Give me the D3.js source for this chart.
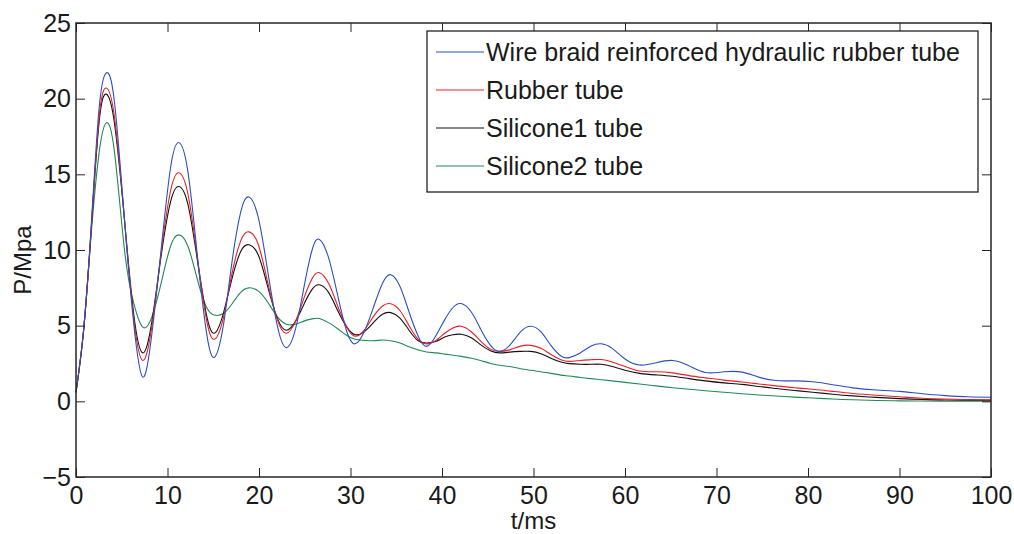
<!DOCTYPE html>
<html>
<head>
<meta charset="utf-8">
<script src="https://cdn.jsdelivr.net/npm/d3@7/dist/d3.min.js"></script>
<style>
  body { margin: 0; background: #fff; }
  svg { display: block; font-family: Arial, "Liberation Sans", sans-serif; }
</style>
</head>
<body>
<svg width="1014" height="534"></svg>
<script>
// time samples in ms (read at peaks, troughs and in between)
const timeMs = [0, 0.8, 1.6, 2.5, 3.3, 4.2, 5.3, 6.3, 7.3, 8.3, 9.3, 10.3, 11.2, 12.2, 13.2, 14.2, 15.1, 16.1, 17.0, 18.0,
  18.9, 19.9, 20.9, 22.0, 23.0, 24.0, 24.9, 25.8, 26.6, 27.6, 28.6, 29.6, 30.5, 31.5, 32.5, 33.5, 34.4, 35.4, 36.4, 37.4,
  38.3, 39.3, 40.3, 41.2, 42.1, 43.2, 44.2, 45.3, 46.3, 47.4, 48.6, 49.7, 50.8, 51.9, 53.0, 53.9, 55.1, 56.3, 57.4, 58.6,
  60, 61.6, 63.4, 65.2, 67, 68.8, 70.8, 72.8, 74.6, 76.5, 78.5, 80.5, 82.7, 84.9, 87.5, 90, 92.5, 95, 97.5, 100];

const wireBraid = [0.6, 4.5, 11, 19.2, 21.7, 19.8, 12, 5.2, 1.6, 4.5, 10, 15.3, 17.1, 15.3, 10, 4.8, 2.9, 5, 9, 12.5,
  13.5, 12.2, 8.8, 5, 3.55, 4.8, 7.5, 10, 10.7, 9.5, 7, 4.6, 3.8, 4.6, 6.2, 7.8, 8.37, 7.6, 5.9, 4.3,
  3.63, 4.3, 5.4, 6.2, 6.46, 5.9, 4.8, 3.7, 3.3, 3.7, 4.6, 4.96, 4.6, 3.7, 3.0, 2.89, 3.2, 3.65, 3.8, 3.5,
  2.8, 2.4, 2.55, 2.7, 2.35, 1.9, 1.95, 1.93, 1.6, 1.38, 1.35, 1.29, 1.1, 0.89, 0.75, 0.66, 0.5, 0.38, 0.3, 0.27];

const rubber = [0.6, 4.5, 10.8, 18.6, 20.7, 18.8, 12, 5.5, 2.7, 5, 9.8, 13.8, 15.1, 13.8, 9.8, 5.6, 4.1, 5.5, 8.3, 10.6,
  11.2, 10.4, 8, 5.4, 4.5, 5.3, 6.8, 8.1, 8.5, 7.8, 6.3, 4.9, 4.3, 4.7, 5.6, 6.3, 6.45, 6.0, 5.0, 4.1,
  3.8, 4.0, 4.5, 4.85, 4.96, 4.6, 4.0, 3.45, 3.3, 3.4, 3.65, 3.7, 3.5, 3.1, 2.75, 2.64, 2.7, 2.75, 2.76, 2.6,
  2.3, 2.0, 1.95, 1.88, 1.7, 1.55, 1.4, 1.28, 1.15, 1.02, 0.9, 0.8, 0.66, 0.52, 0.4, 0.3, 0.2, 0.15, 0.12, 0.1];

const silicone1 = [0.6, 4.5, 10.8, 18.3, 20.3, 18.4, 12, 5.8, 3.2, 5.3, 9.6, 13.1, 14.2, 13.1, 9.6, 5.9, 4.5, 5.8, 8.0, 9.9,
  10.35, 9.7, 7.7, 5.5, 4.7, 5.3, 6.4, 7.4, 7.7, 7.2, 6.0, 4.9, 4.4, 4.6, 5.2, 5.75, 5.86, 5.5, 4.7, 4.0,
  3.85, 3.95, 4.25, 4.4, 4.43, 4.2, 3.75, 3.35, 3.2, 3.25, 3.3, 3.3, 3.15, 2.85, 2.6, 2.49, 2.45, 2.45, 2.45, 2.3,
  2.05, 1.85, 1.75, 1.66, 1.5, 1.35, 1.22, 1.12, 0.98, 0.85, 0.72, 0.6, 0.47, 0.36, 0.26, 0.18, 0.12, 0.09, 0.07, 0.07];

const silicone2 = [0.6, 4.5, 10.6, 16.3, 18.4, 16.5, 10, 6.5, 4.9, 5.6, 7.8, 10.2, 11.0, 10.3, 8.2, 6.3, 5.7, 5.8, 6.4, 7.2,
  7.5, 7.3, 6.6, 5.6, 5.1, 5.1, 5.3, 5.45, 5.47, 5.2, 4.8, 4.35, 4.1, 4.03, 4.0, 4.05, 4.0, 3.85, 3.6, 3.4,
  3.26, 3.2, 3.12, 3.05, 2.97, 2.85, 2.7, 2.5, 2.38, 2.3, 2.15, 2.05, 1.95, 1.85, 1.73, 1.67, 1.58, 1.5, 1.43, 1.35,
  1.25, 1.15, 1.02, 0.9, 0.8, 0.7, 0.6, 0.5, 0.42, 0.35, 0.28, 0.22, 0.15, 0.1, 0.06, 0.03, 0.02, 0.01, 0.01, 0.01];

const seriesNames = ["Wire braid reinforced hydraulic rubber tube", "Rubber tube", "Silicone1 tube", "Silicone2 tube"];
const seriesColors = ["#2c4fc0", "#ee1c24", "#111111", "#1f8a55"];
const xTicks = [0, 10, 20, 30, 40, 50, 60, 70, 80, 90, 100];
const yTicks = [-5, 0, 5, 10, 15, 20, 25];

function drawChart(){
    const svg = d3.select("svg");
    const left = 76, right = 991, top = 23, bottom = 477;
    const tickLen = 9;
    const fontSize = 25;

    const x = d3.scaleLinear().domain([0, 100]).range([left, right]);
    const y = d3.scaleLinear().domain([-5, 25]).range([bottom, top]);

    const allSeries = [wireBraid, rubber, silicone1, silicone2];

    const line = d3.line()
        .x((d, i) => x(timeMs[i]))
        .y(d => y(d))
        .curve(d3.curveNatural);

    const plot = svg.append("g");
    // green first so the others lie on top like the original
    [3, 2, 1, 0].forEach(k => {
        plot.append("path")
            .datum(allSeries[k])
            .attr("fill", "none")
            .attr("stroke", seriesColors[k])
            .attr("stroke-width", 1.1)
            .attr("d", line);
    });

    // axes, MATLAB style: ticks inside, on all four sides
    const axisColor = "#262626";
    svg.append("g")
        .attr("transform", `translate(0,${bottom})`)
        .call(d3.axisBottom(x).tickValues(xTicks).tickSize(-tickLen).tickPadding(9))
        .call(g => g.select(".domain").remove());
    svg.append("g")
        .attr("transform", `translate(0,${top})`)
        .call(d3.axisTop(x).tickValues(xTicks).tickSize(-tickLen).tickFormat(""))
        .call(g => g.select(".domain").remove());
    svg.append("g")
        .attr("transform", `translate(${left},0)`)
        .call(d3.axisLeft(y).tickValues(yTicks).tickSize(-tickLen).tickPadding(5))
        .call(g => g.select(".domain").remove());
    svg.append("g")
        .attr("transform", `translate(${right},0)`)
        .call(d3.axisRight(y).tickValues(yTicks).tickSize(-tickLen).tickFormat(""))
        .call(g => g.select(".domain").remove());

    svg.selectAll(".tick line").attr("stroke", axisColor).attr("stroke-width", 1);
    svg.selectAll(".tick text")
        .attr("fill", "#1a1a1a")
        .style("font-family", "Arial, 'Liberation Sans', sans-serif")
        .style("font-size", fontSize + "px");

    svg.append("rect")
        .attr("x", left).attr("y", top)
        .attr("width", right - left).attr("height", bottom - top)
        .attr("fill", "none")
        .attr("stroke", axisColor)
        .attr("stroke-width", 1.5);

    svg.append("text")
        .attr("x", (left + right) / 2)
        .attr("y", 529)
        .attr("text-anchor", "middle")
        .attr("font-size", "24px")
        .attr("fill", "#1a1a1a")
        .text("t/ms");

    svg.append("text")
        .attr("transform", `translate(31,${(top + bottom) / 2 + 10}) rotate(-90)`)
        .attr("text-anchor", "middle")
        .attr("font-size", "24px")
        .attr("fill", "#1a1a1a")
        .text("P/Mpa");

    // legend
    const lgX = 427, lgY = 31, lgW = 551, lgRow = 38;
    const legend = svg.append("g");
    legend.append("rect")
        .attr("x", lgX).attr("y", lgY)
        .attr("width", lgW).attr("height", 161)
        .attr("fill", "#fff")
        .attr("stroke", "#111")
        .attr("stroke-width", 1.2);

    seriesNames.forEach((name, i) => {
        const cy = lgY + 21 + i * lgRow;
        legend.append("line")
            .attr("x1", lgX + 9).attr("x2", lgX + 57)
            .attr("y1", cy).attr("y2", cy)
            .attr("stroke", seriesColors[i])
            .attr("stroke-width", 1.1);
        legend.append("text")
            .attr("x", lgX + 59)
            .attr("y", cy + 9)
            .attr("font-size", fontSize + "px")
            .attr("fill", "#1a1a1a")
            .text(name);
    });
}

drawChart();
</script>
</body>
</html>
